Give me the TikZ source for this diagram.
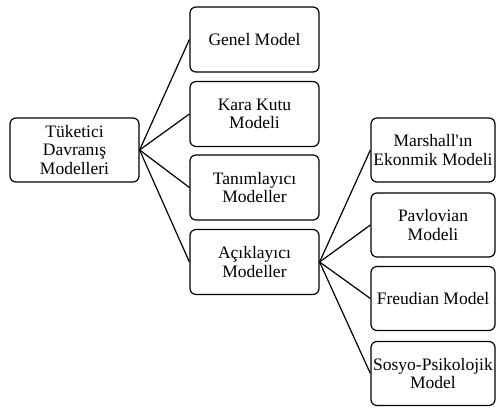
\documentclass[tikz,border=0pt]{standalone}
\usepackage{fontspec}
\setmainfont{Liberation Serif}[Ligatures=TeXOff]
\begin{document}
\begin{tikzpicture}[x=1pt,y=-1pt,
  box/.style={draw=black, line width=1.2pt, rounded corners=6pt, align=center,
    inner sep=0pt, font=\fontsize{17.5}{18.5}\selectfont},
  rootbox/.style={box, minimum width=129pt, minimum height=64pt},
  midbox/.style={box, minimum width=129pt, minimum height=65pt},
  leafbox/.style={box, minimum width=124pt, minimum height=64pt},
  link/.style={draw=black, line width=1.2pt}]
\useasboundingbox (0,0) rectangle (504,411);
\node[rootbox] (root) at (74.5,150) {Tüketici\\Davranış\\Modelleri};
\node[midbox] (genel) at (254.5,39.5) {Genel Model};
\node[midbox] (kara) at (254.5,114) {Kara Kutu\\Modeli};
\node[midbox] (tan) at (254.5,187.5) {Tanımlayıcı\\Modeller};
\node[midbox] (acik) at (254.5,262) {Açıklayıcı\\Modeller};
\node[leafbox] (mar) at (433,150) {Marshall'ın\\Ekonmik Modeli};
\node[leafbox] (pav) at (433,225) {Pavlovian\\Modeli};
\node[leafbox] (freud) at (433,298.5) {Freudian Model};
\node[leafbox] (sosyo) at (433,373.5) {Sosyo-Psikolojik\\Model};
\foreach \t in {genel,kara,tan,acik} \draw[link] (root.east) -- (\t.west);
\foreach \t in {mar,pav,freud,sosyo} \draw[link] (acik.east) -- (\t.west);
\end{tikzpicture}
\end{document}
